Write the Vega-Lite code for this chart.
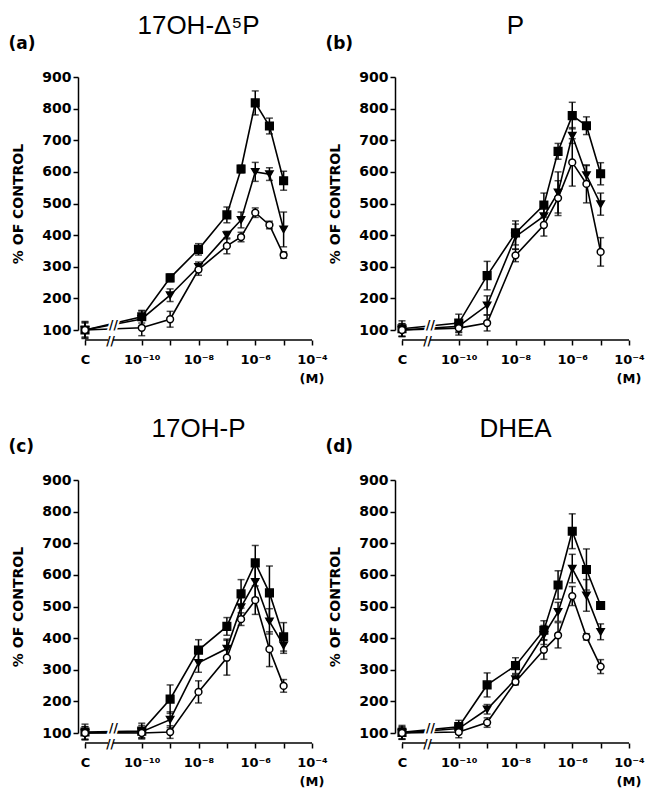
{
  "$schema": "https://vega.github.io/schema/vega-lite/v6.json",
  "background": "white",
  "padding": {"left": 8, "top": 11, "right": 0, "bottom": 0},
  "data": {"values": [
    {"p":"a","s":"sq","x":-12,"y":100,"e":27},{"p":"a","s":"sq","x":-10,"y":142,"e":20},{"p":"a","s":"sq","x":-9,"y":265,"e":12},{"p":"a","s":"sq","x":-8,"y":355,"e":18},{"p":"a","s":"sq","x":-7,"y":464,"e":25},{"p":"a","s":"sq","x":-6.5,"y":609,"e":12},{"p":"a","s":"sq","x":-6,"y":818,"e":38},{"p":"a","s":"sq","x":-5.5,"y":745,"e":25},{"p":"a","s":"sq","x":-5,"y":572,"e":30},
    {"p":"a","s":"tri","x":-12,"y":100,"e":25},{"p":"a","s":"tri","x":-10,"y":135,"e":25},{"p":"a","s":"tri","x":-9,"y":210,"e":20},{"p":"a","s":"tri","x":-8,"y":300,"e":15},{"p":"a","s":"tri","x":-7,"y":400,"e":12},{"p":"a","s":"tri","x":-6.5,"y":448,"e":25},{"p":"a","s":"tri","x":-6,"y":600,"e":30},{"p":"a","s":"tri","x":-5.5,"y":593,"e":20},{"p":"a","s":"tri","x":-5,"y":418,"e":55},
    {"p":"a","s":"circ","x":-12,"y":100,"e":22},{"p":"a","s":"circ","x":-10,"y":107,"e":25},{"p":"a","s":"circ","x":-9,"y":134,"e":25},{"p":"a","s":"circ","x":-8,"y":291,"e":18},{"p":"a","s":"circ","x":-7,"y":366,"e":25},{"p":"a","s":"circ","x":-6.5,"y":394,"e":15},{"p":"a","s":"circ","x":-6,"y":471,"e":15},{"p":"a","s":"circ","x":-5.5,"y":432,"e":12},{"p":"a","s":"circ","x":-5,"y":337,"e":10},
    {"p":"b","s":"sq","x":-12,"y":104,"e":25},{"p":"b","s":"sq","x":-10,"y":122,"e":28},{"p":"b","s":"sq","x":-9,"y":272,"e":45},{"p":"b","s":"sq","x":-8,"y":407,"e":38},{"p":"b","s":"sq","x":-7,"y":495,"e":38},{"p":"b","s":"sq","x":-6.5,"y":665,"e":25},{"p":"b","s":"sq","x":-6,"y":778,"e":42},{"p":"b","s":"sq","x":-5.5,"y":746,"e":28},{"p":"b","s":"sq","x":-5,"y":594,"e":35},
    {"p":"b","s":"tri","x":-12,"y":100,"e":20},{"p":"b","s":"tri","x":-10,"y":112,"e":20},{"p":"b","s":"tri","x":-9,"y":178,"e":30},{"p":"b","s":"tri","x":-8,"y":395,"e":40},{"p":"b","s":"tri","x":-7,"y":460,"e":30},{"p":"b","s":"tri","x":-6.5,"y":535,"e":65},{"p":"b","s":"tri","x":-6,"y":715,"e":25},{"p":"b","s":"tri","x":-5.5,"y":590,"e":30},{"p":"b","s":"tri","x":-5,"y":498,"e":35},
    {"p":"b","s":"circ","x":-12,"y":100,"e":20},{"p":"b","s":"circ","x":-10,"y":106,"e":22},{"p":"b","s":"circ","x":-9,"y":122,"e":25},{"p":"b","s":"circ","x":-8,"y":336,"e":20},{"p":"b","s":"circ","x":-7,"y":432,"e":35},{"p":"b","s":"circ","x":-6.5,"y":517,"e":55},{"p":"b","s":"circ","x":-6,"y":630,"e":75},{"p":"b","s":"circ","x":-5.5,"y":562,"e":60},{"p":"b","s":"circ","x":-5,"y":347,"e":45},
    {"p":"c","s":"sq","x":-12,"y":103,"e":25},{"p":"c","s":"sq","x":-10,"y":106,"e":25},{"p":"c","s":"sq","x":-9,"y":207,"e":45},{"p":"c","s":"sq","x":-8,"y":362,"e":33},{"p":"c","s":"sq","x":-7,"y":437,"e":28},{"p":"c","s":"sq","x":-6.5,"y":540,"e":45},{"p":"c","s":"sq","x":-6,"y":638,"e":55},{"p":"c","s":"sq","x":-5.5,"y":543,"e":85},{"p":"c","s":"sq","x":-5,"y":404,"e":45},
    {"p":"c","s":"tri","x":-12,"y":100,"e":20},{"p":"c","s":"tri","x":-10,"y":104,"e":20},{"p":"c","s":"tri","x":-9,"y":142,"e":25},{"p":"c","s":"tri","x":-8,"y":322,"e":30},{"p":"c","s":"tri","x":-7,"y":367,"e":30},{"p":"c","s":"tri","x":-6.5,"y":498,"e":40},{"p":"c","s":"tri","x":-6,"y":578,"e":50},{"p":"c","s":"tri","x":-5.5,"y":453,"e":40},{"p":"c","s":"tri","x":-5,"y":377,"e":25},
    {"p":"c","s":"circ","x":-12,"y":100,"e":20},{"p":"c","s":"circ","x":-10,"y":100,"e":15},{"p":"c","s":"circ","x":-9,"y":103,"e":20},{"p":"c","s":"circ","x":-8,"y":230,"e":35},{"p":"c","s":"circ","x":-7,"y":338,"e":55},{"p":"c","s":"circ","x":-6.5,"y":460,"e":20},{"p":"c","s":"circ","x":-6,"y":520,"e":45},{"p":"c","s":"circ","x":-5.5,"y":365,"e":55},{"p":"c","s":"circ","x":-5,"y":249,"e":20},
    {"p":"d","s":"sq","x":-12,"y":102,"e":22},{"p":"d","s":"sq","x":-10,"y":120,"e":20},{"p":"d","s":"sq","x":-9,"y":252,"e":38},{"p":"d","s":"sq","x":-8,"y":313,"e":25},{"p":"d","s":"sq","x":-7,"y":425,"e":30},{"p":"d","s":"sq","x":-6.5,"y":568,"e":45},{"p":"d","s":"sq","x":-6,"y":738,"e":55},{"p":"d","s":"sq","x":-5.5,"y":617,"e":65},{"p":"d","s":"sq","x":-5,"y":503,"e":10},
    {"p":"d","s":"tri","x":-12,"y":100,"e":20},{"p":"d","s":"tri","x":-10,"y":114,"e":18},{"p":"d","s":"tri","x":-9,"y":175,"e":15},{"p":"d","s":"tri","x":-8,"y":270,"e":15},{"p":"d","s":"tri","x":-7,"y":410,"e":30},{"p":"d","s":"tri","x":-6.5,"y":483,"e":30},{"p":"d","s":"tri","x":-6,"y":620,"e":45},{"p":"d","s":"tri","x":-5.5,"y":535,"e":50},{"p":"d","s":"tri","x":-5,"y":420,"e":25},
    {"p":"d","s":"circ","x":-12,"y":100,"e":18},{"p":"d","s":"circ","x":-10,"y":103,"e":18},{"p":"d","s":"circ","x":-9,"y":133,"e":15},{"p":"d","s":"circ","x":-8,"y":262,"e":10},{"p":"d","s":"circ","x":-7,"y":363,"e":30},{"p":"d","s":"circ","x":-6.5,"y":409,"e":40},{"p":"d","s":"circ","x":-6,"y":533,"e":30},{"p":"d","s":"circ","x":-5.5,"y":404,"e":10},{"p":"d","s":"circ","x":-5,"y":310,"e":22}
  ]},
  "transform": [
    {"calculate": "'(' + datum.p + ')'", "as": "tag"},
    {"calculate": "datum.p == 'a' ? '17OH-Δ⁵P' : datum.p == 'b' ? 'P' : datum.p == 'c' ? '17OH-P' : 'DHEA'", "as": "ttl"}
  ],
  "facet": {
    "field": "p", "type": "nominal", "sort": ["a", "b", "c", "d"],
    "header": {"title": null, "labels": false, "labelExpr": "''", "labelFontSize": 1, "labelPadding": 0}
  },
  "columns": 2,
  "spacing": {"row": 150, "column": 90},
  "bounds": "flush",
  "resolve": {"axis": {"x": "independent", "y": "independent"}},
  "spec": {
    "width": 227,
    "height": 253,
    "encoding": {
      "x": {"field": "x", "type": "quantitative",
        "scale": {"domain": [-12, -4], "nice": false, "zero": false},
        "axis": {"values": [-12, -10, -9, -8, -7, -6, -5, -4], "title": null, "offset": 10, "domain": false, "grid": false,
          "tickSize": 5, "labelPadding": 8, "labelFlush": false, "labelOverlap": false, "labelFontSize": 13,
          "labelExpr": "datum.value == -12 ? 'C' : datum.value == -10 ? '10⁻¹⁰' : datum.value == -8 ? '10⁻⁸' : datum.value == -6 ? '10⁻⁶' : datum.value == -4 ? '10⁻⁴' : ''"}},
      "y": {"field": "y", "type": "quantitative",
        "scale": {"domain": [100, 900], "nice": false, "zero": false},
        "axis": {"values": [100, 200, 300, 400, 500, 600, 700, 800, 900], "title": "% OF CONTROL", "offset": 7, "grid": false,
          "tickSize": 5, "labelPadding": 2, "titlePadding": 16}}
    },
    "layer": [
      {"mark": {"type": "rule", "color": "black", "strokeWidth": 1.5},
       "transform": [{"filter": "datum.s == 'sq' && datum.x == -12"}],
       "encoding": {"x": {"datum": -12, "type": "quantitative"}, "x2": {"datum": -11.18}, "y": {"datum": 68.4, "type": "quantitative"}}},
      {"mark": {"type": "rule", "color": "black", "strokeWidth": 1.5},
       "transform": [{"filter": "datum.s == 'sq' && datum.x == -12"}],
       "encoding": {"x": {"datum": -11.02, "type": "quantitative"}, "x2": {"datum": -4}, "y": {"datum": 68.4, "type": "quantitative"}}},
      {"mark": {"type": "text", "text": "//", "font": "DejaVu Sans", "fontWeight": "bold", "fontSize": 12, "color": "black", "baseline": "middle", "align": "center"},
       "transform": [{"filter": "datum.s == 'sq' && datum.x == -12"}],
       "encoding": {"x": {"datum": -11.1, "type": "quantitative"}, "y": {"datum": 66, "type": "quantitative"}}},
      {"mark": {"type": "errorbar", "ticks": {"size": 7}, "thickness": 1.5, "color": "black"},
       "encoding": {"yError": {"field": "e"}}},
      {"mark": {"type": "line", "color": "black", "strokeWidth": 1.6},
       "encoding": {"detail": {"field": "s"}, "order": {"field": "x"}}},
      {"mark": {"type": "text", "text": "//", "font": "DejaVu Sans", "fontWeight": "bold", "fontSize": 12, "fill": "white", "stroke": "white", "strokeWidth": 4, "baseline": "middle", "align": "center"},
       "transform": [{"filter": "datum.s == 'sq' && datum.x == -12"}],
       "encoding": {"x": {"datum": -11, "type": "quantitative"}, "y": {"datum": 115, "type": "quantitative"}}},
      {"mark": {"type": "text", "text": "//", "font": "DejaVu Sans", "fontWeight": "bold", "fontSize": 12, "fill": "black", "baseline": "middle", "align": "center"},
       "transform": [{"filter": "datum.s == 'sq' && datum.x == -12"}],
       "encoding": {"x": {"datum": -11, "type": "quantitative"}, "y": {"datum": 115, "type": "quantitative"}}},
      {"mark": {"type": "point", "filled": true, "stroke": "black", "strokeWidth": 1.5, "opacity": 1, "fillOpacity": 1},
       "encoding": {
         "shape": {"field": "s", "type": "nominal", "scale": {"domain": ["sq", "tri", "circ"], "range": ["square", "triangle-down", "circle"]}, "legend": null},
         "fill": {"field": "s", "type": "nominal", "scale": {"domain": ["sq", "tri", "circ"], "range": ["black", "black", "white"]}, "legend": null},
         "size": {"field": "s", "type": "nominal", "scale": {"domain": ["sq", "tri", "circ"], "range": [58, 46, 32]}, "legend": null}
       }},
      {"mark": {"type": "text", "align": "left", "baseline": "alphabetic", "font": "DejaVu Sans", "fontWeight": "bold", "fontSize": 17, "color": "black"},
       "transform": [{"filter": "datum.s == 'sq' && datum.x == -12"}],
       "encoding": {"x": {"datum": -14.7, "type": "quantitative"}, "y": {"datum": 989, "type": "quantitative"}, "text": {"field": "tag"}}},
      {"mark": {"type": "text", "align": "center", "baseline": "alphabetic", "font": "Liberation Sans", "fontSize": 26, "color": "black"},
       "transform": [{"filter": "datum.s == 'sq' && datum.x == -12"}],
       "encoding": {"x": {"datum": -8, "type": "quantitative"}, "y": {"datum": 1036, "type": "quantitative"}, "text": {"field": "ttl"}}},
      {"mark": {"type": "text", "text": "(M)", "align": "center", "baseline": "middle", "font": "DejaVu Sans", "fontWeight": "bold", "fontSize": 13, "color": "black"},
       "transform": [{"filter": "datum.s == 'sq' && datum.x == -12"}],
       "encoding": {"x": {"datum": -4, "type": "quantitative"}, "y": {"datum": -56, "type": "quantitative"}}}
    ]
  },
  "config": {
    "view": {"stroke": null},
    "header": {"labels": false, "title": null, "labelFontSize": 1, "labelPadding": 0},
    "headerFacet": {"labels": false, "title": null, "labelFontSize": 1, "labelPadding": 0},
    "axis": {"domainColor": "black", "domainWidth": 1.5, "tickColor": "black", "tickWidth": 1.5,
      "labelFont": "DejaVu Sans", "labelFontWeight": "bold", "labelFontSize": 14, "labelColor": "black",
      "titleFont": "DejaVu Sans", "titleFontWeight": "bold", "titleFontSize": 14, "titleColor": "black"}
  }
}
